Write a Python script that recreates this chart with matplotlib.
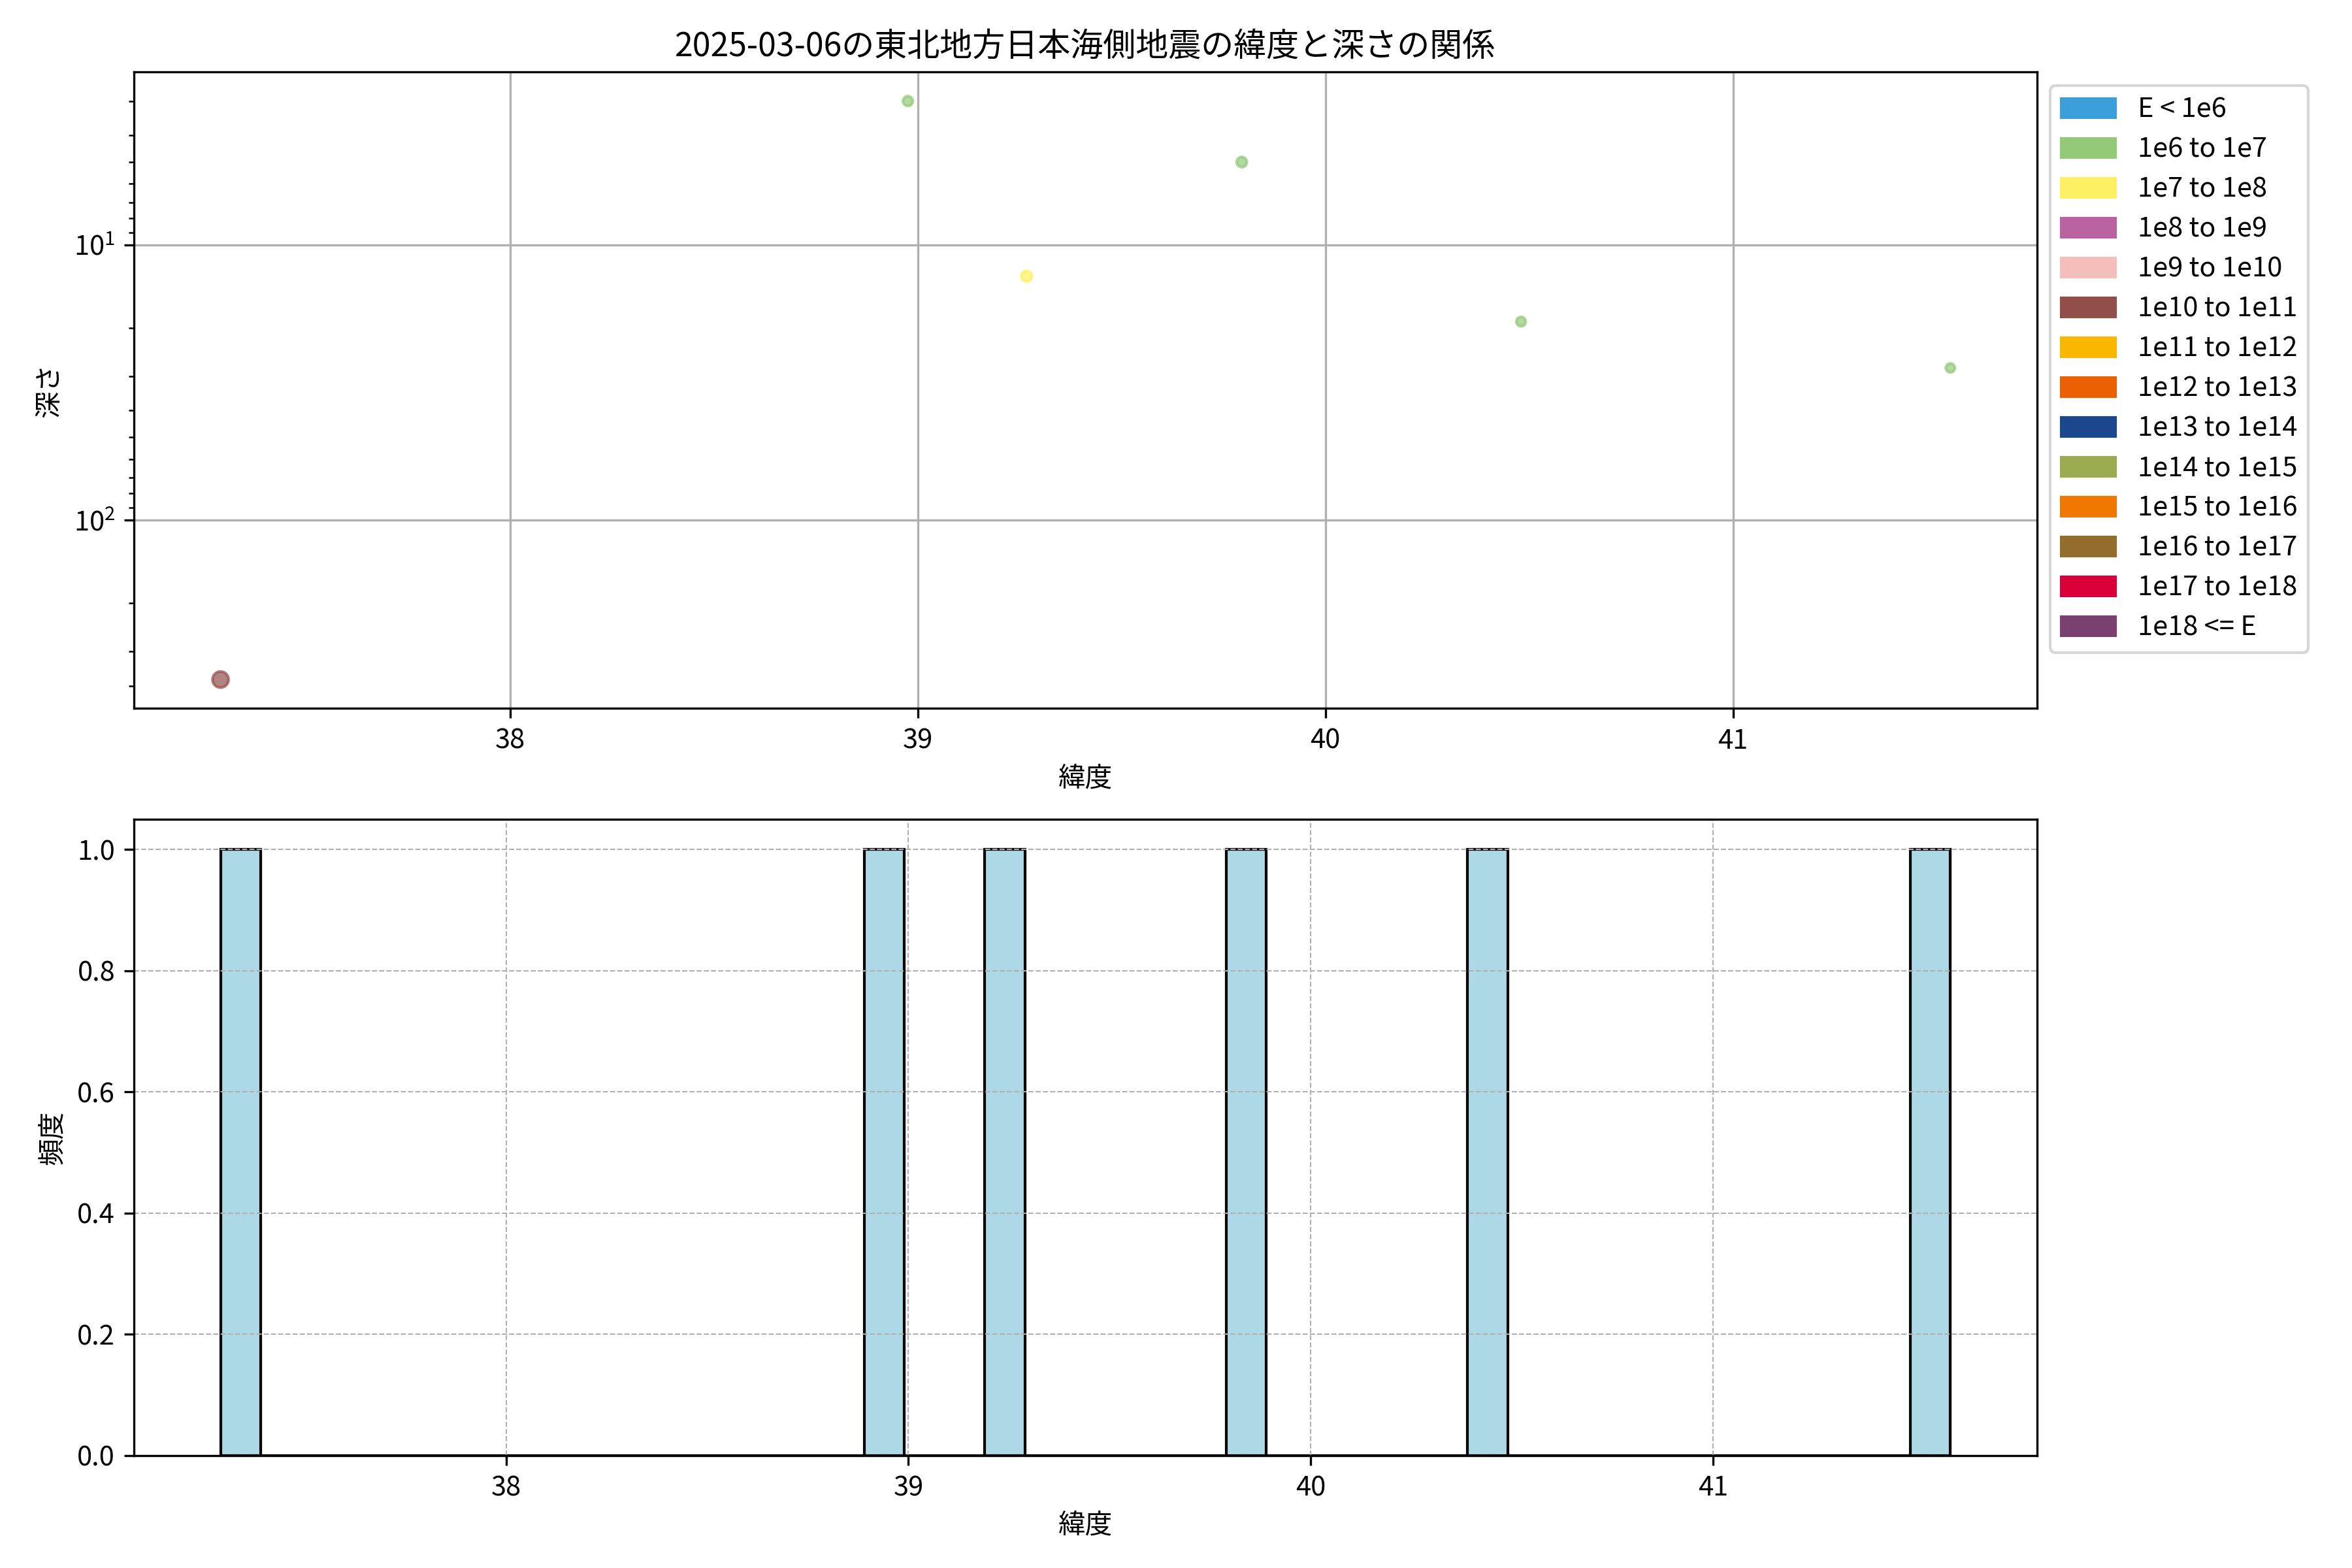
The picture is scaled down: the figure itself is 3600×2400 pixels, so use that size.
import numpy as np
import matplotlib
matplotlib.use("Agg")
import matplotlib.pyplot as plt
import matplotlib.patches as mpatches

plt.rcParams['font.family'] = ['Noto Sans CJK JP', 'DejaVu Sans']

# Earthquakes on 2025-03-06
latitude = np.array([37.29, 38.976, 39.267, 39.795, 40.48, 41.533])
depth = np.array([380, 3, 13, 5, 19, 28])
magnitude = np.array([3.5, 1.3, 1.6, 1.4, 1.2, 1.1])

# Energy classes for the legend
energy_labels = ["E < 1e6", "1e6 to 1e7", "1e7 to 1e8", "1e8 to 1e9", "1e9 to 1e10",
                 "1e10 to 1e11", "1e11 to 1e12", "1e12 to 1e13", "1e13 to 1e14",
                 "1e14 to 1e15", "1e15 to 1e16", "1e16 to 1e17", "1e17 to 1e18",
                 "1e18 <= E"]
energy_colors = ["#3a9fdb", "#93c977", "#fff163", "#ba63a0", "#f5bfbb", "#924f4a",
                 "#f9b700", "#ea6002", "#1b478f", "#9aab50", "#f17800", "#936d2c",
                 "#d9003a", "#7a4070"]

# energy in J from magnitude, then class index
energy = 10 ** (1.5 * magnitude + 4.8)
cls = np.clip(np.floor(np.log10(energy)).astype(int) - 5, 0, len(energy_colors) - 1)
point_colors = [energy_colors[i] for i in cls]

fig, (ax1, ax2) = plt.subplots(2, 1, figsize=(12, 8), dpi=300)

ax1.scatter(latitude, depth, c=point_colors, s=magnitude * 10, alpha=0.7)
ax1.set_yscale("log")
ax1.invert_yaxis()
ax1.set_xlabel("緯度")
ax1.set_ylabel("深さ")
ax1.set_title("2025-03-06の東北地方日本海側地震の緯度と深さの関係")
ax1.grid(True)
handles = [mpatches.Patch(color=c, label=l) for c, l in zip(energy_colors, energy_labels)]
ax1.legend(handles=handles, loc="upper left", bbox_to_anchor=(1, 1), labelspacing=0.48)

bins = np.arange(latitude.min(), latitude.max() + 0.1, 0.1)
ax2.hist(latitude, bins=bins, color="lightblue", edgecolor="black")
ax2.set_xlabel("緯度")
ax2.set_ylabel("頻度")
ax2.grid(True, linestyle="--", linewidth=0.5)

fig.subplots_adjust(left=0.057, right=0.866, top=0.954, bottom=0.0717, hspace=0.174)
fig.savefig("out.png")
